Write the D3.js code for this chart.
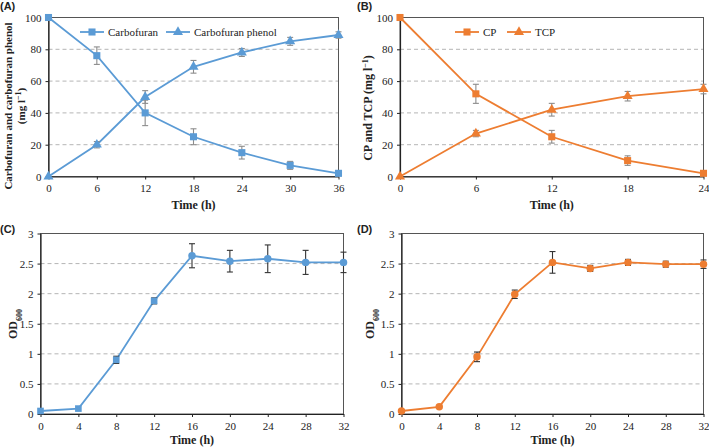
<!DOCTYPE html>
<html><head><meta charset="utf-8">
<script src="https://cdn.jsdelivr.net/npm/d3@7"></script>
<style>body{margin:0;background:#fff}svg{display:block}</style>
</head><body>
<svg id="c" width="709" height="447"></svg>
<script>
// ---- data ----
const timeA = [0, 6, 12, 18, 24, 30, 36];
const carbofuran = [100, 76, 40, 25, 15, 7, 2];
const carbofuranErr = [0, 5.5, 8, 5, 4, 2.5, 1.5];
const carbofuranPhenol = [0, 20, 50, 69, 78, 85, 89];
const carbofuranPhenolErr = [0, 2, 4, 4, 2.5, 2.5, 2];

const timeB = [0, 6, 12, 18, 24];
const cp = [100, 52, 25, 10, 2];
const cpErr = [0, 6, 4, 3, 1.5];
const tcp = [0, 27, 42, 50.5, 55];
const tcpErr = [0, 2, 4, 3, 3];

const timeCD = [0, 4, 8, 12, 16, 20, 24, 28, 32];
const odC = [0.05, 0.09, 0.9, 1.88, 2.63, 2.54, 2.58, 2.52, 2.52];
const odCErr = [0, 0, 0.06, 0.05, 0.2, 0.18, 0.23, 0.2, 0.17];
const odD = [0.05, 0.12, 0.95, 1.99, 2.52, 2.42, 2.52, 2.49, 2.49];
const odDErr = [0, 0, 0.08, 0.07, 0.18, 0.05, 0.05, 0.05, 0.07];

const ticksA = [0, 6, 12, 18, 24, 30, 36];
const ticksB = [0, 6, 12, 18, 24];
const ticksCD = [0, 4, 8, 12, 16, 20, 24, 28, 32];
const ticksConc = [0, 20, 40, 60, 80, 100];
const ticksOD = [0, 0.5, 1, 1.5, 2, 2.5, 3];

const BLUE = "#5b9bd5", ORANGE = "#ed7d31";
const SERIF = "'Liberation Serif','Times New Roman',serif";
const SANS = "'Liberation Sans',Arial,sans-serif";

const svg = d3.select("#c");

function drawPanel(p) {
  const g = svg.append("g");
  const x = d3.scaleLinear().domain(p.xDomain).range([p.left, p.right]);
  const y = d3.scaleLinear().domain(p.yDomain).range([p.bottom, p.top]);

  g.selectAll("line.grid").data(p.yTicks.filter(v => v !== p.yDomain[0] && v !== p.yDomain[1]))
    .enter().append("line")
    .attr("x1", p.left).attr("x2", p.right)
    .attr("y1", d => y(d)).attr("y2", d => y(d))
    .attr("stroke", "#b5b5b5").attr("stroke-width", 1).attr("stroke-dasharray", "4,3");

  g.append("rect").attr("x", p.left).attr("y", p.top)
    .attr("width", p.right - p.left).attr("height", p.bottom - p.top)
    .attr("fill", "none").attr("stroke", "#555").attr("stroke-width", 1);

  const xa = g.append("g").attr("transform", `translate(0,${p.bottom})`)
    .call(d3.axisBottom(x).tickValues(p.xTicks).tickSize(3).tickSizeOuter(0).tickFormat(d3.format("d")));
  const ya = g.append("g").attr("transform", `translate(${p.left},0)`)
    .call(d3.axisLeft(y).tickValues(p.yTicks).tickSize(3).tickSizeOuter(0).tickFormat(d => String(d)));
  [xa, ya].forEach(a => {
    a.select(".domain").attr("stroke", "#222").attr("stroke-width", 1.2);
    a.selectAll(".tick line").attr("stroke", "#222");
    a.selectAll("text").attr("font-family", SERIF).attr("font-size", 11).attr("fill", "#222");
  });
  xa.selectAll("text").attr("dy", "0.9em");
  ya.selectAll("text").attr("dx", "-1px");

  p.series.forEach(s => {
    const pts = s.t.map((t, i) => ({ t, v: s.v[i], e: s.e[i] }));
    g.append("path").datum(pts)
      .attr("d", d3.line().x(d => x(d.t)).y(d => y(d.v)))
      .attr("fill", "none").attr("stroke", s.color).attr("stroke-width", 1.8);
    const eb = g.selectAll(null).data(pts.filter(d => d.e > 0)).enter().append("g")
      .attr("stroke", p.errColor).attr("stroke-width", 1.1);
    eb.append("line").attr("x1", d => x(d.t)).attr("x2", d => x(d.t))
      .attr("y1", d => y(d.v + d.e)).attr("y2", d => y(d.v - d.e));
    eb.append("line").attr("x1", d => x(d.t) - 3).attr("x2", d => x(d.t) + 3)
      .attr("y1", d => y(d.v + d.e)).attr("y2", d => y(d.v + d.e));
    eb.append("line").attr("x1", d => x(d.t) - 3).attr("x2", d => x(d.t) + 3)
      .attr("y1", d => y(d.v - d.e)).attr("y2", d => y(d.v - d.e));
    g.selectAll(null).data(pts).enter().append("path")
      .attr("transform", d => `translate(${x(d.t)},${y(d.v)})`)
      .attr("d", d => d3.symbol().type(s.sym(d)).size(s.size)())
      .attr("fill", s.color);
  });

  if (p.legend) {
    p.legend.forEach(l => {
      g.append("line").attr("x1", l.x).attr("x2", l.x + 24).attr("y1", l.y).attr("y2", l.y)
        .attr("stroke", l.color).attr("stroke-width", 1.8);
      g.append("path").attr("transform", `translate(${l.x + 12},${l.y})`)
        .attr("d", d3.symbol().type(l.sym).size(l.size)()).attr("fill", l.color);
      g.append("text").attr("x", l.x + 28).attr("y", l.y + 4).text(l.label)
        .attr("font-family", SERIF).attr("font-size", 11).attr("fill", "#222");
    });
  }

  g.append("text").attr("x", (p.left + p.right) / 2).attr("y", p.xTitleY)
    .attr("text-anchor", "middle").attr("font-family", SERIF).attr("font-weight", "bold")
    .attr("font-size", 12).attr("fill", "#222").text("Time (h)");

  g.append("text").attr("x", p.labelX).attr("y", p.labelY).text(p.label)
    .attr("font-family", SANS).attr("font-weight", "bold").attr("font-size", 11).attr("fill", "#222");

  return { g, x, y };
}

drawPanel({
  left: 48.5, right: 338.5, top: 17.5, bottom: 176.5,
  xDomain: [0, 36], yDomain: [0, 100], xTicks: ticksA, yTicks: ticksConc,
  errColor: "#8c8c8c",
  series: [
    { t: timeA, v: carbofuran, e: carbofuranErr, color: BLUE, sym: () => d3.symbolSquare, size: 50 },
    { t: timeA, v: carbofuranPhenol, e: carbofuranPhenolErr, color: BLUE, sym: () => d3.symbolTriangle, size: 44 }
  ],
  legend: [
    { x: 80, y: 32, color: BLUE, sym: d3.symbolSquare, size: 50, label: "Carbofuran" },
    { x: 166, y: 32, color: BLUE, sym: d3.symbolTriangle, size: 44, label: "Carbofuran phenol" }
  ],
  xTitleY: 209, label: "(A)", labelX: 0, labelY: 10
});
{
  const t = svg.append("text").attr("transform", "translate(12,106) rotate(-90)")
    .attr("text-anchor", "middle").attr("font-family", SERIF).attr("font-weight", "bold")
    .attr("font-size", 11).attr("fill", "#222");
  t.text("Carbofuran and carbofuran phenol");
  const t2 = svg.append("text").attr("transform", "translate(25,106) rotate(-90)")
    .attr("text-anchor", "middle").attr("font-family", SERIF).attr("font-weight", "bold")
    .attr("font-size", 11).attr("fill", "#222");
  t2.append("tspan").text("(mg l");
  t2.append("tspan").attr("baseline-shift", "super").attr("font-size", 8).text("−1");
  t2.append("tspan").text(")");
}

drawPanel({
  left: 400, right: 703.5, top: 17.5, bottom: 176.5,
  xDomain: [0, 24], yDomain: [0, 100], xTicks: ticksB, yTicks: ticksConc,
  errColor: "#8c8c8c",
  series: [
    { t: timeB, v: cp, e: cpErr, color: ORANGE, sym: () => d3.symbolSquare, size: 50 },
    { t: timeB, v: tcp, e: tcpErr, color: ORANGE, sym: () => d3.symbolTriangle, size: 44 }
  ],
  legend: [
    { x: 455, y: 32, color: ORANGE, sym: d3.symbolSquare, size: 50, label: "CP" },
    { x: 507, y: 32, color: ORANGE, sym: d3.symbolTriangle, size: 44, label: "TCP" }
  ],
  xTitleY: 209, label: "(B)", labelX: 357, labelY: 10
});
{
  const t = svg.append("text").attr("transform", "translate(372,108) rotate(-90)")
    .attr("text-anchor", "middle").attr("font-family", SERIF).attr("font-weight", "bold")
    .attr("font-size", 12).attr("fill", "#222");
  t.append("tspan").text("CP and TCP (mg l");
  t.append("tspan").attr("baseline-shift", "super").attr("font-size", 8).text("−1");
  t.append("tspan").text(")");
}

drawPanel({
  left: 40.5, right: 343.5, top: 233.5, bottom: 414,
  xDomain: [0, 32], yDomain: [0, 3], xTicks: ticksCD, yTicks: ticksOD,
  errColor: "#333",
  series: [
    { t: timeCD, v: odC, e: odCErr, color: BLUE, sym: d => d.t <= 12 ? d3.symbolSquare : d3.symbolCircle, size: 44 }
  ],
  xTitleY: 444, label: "(C)", labelX: 0, labelY: 233
});
drawPanel({
  left: 401.5, right: 703.5, top: 233.5, bottom: 414,
  xDomain: [0, 32], yDomain: [0, 3], xTicks: ticksCD, yTicks: ticksOD,
  errColor: "#333",
  series: [
    { t: timeCD, v: odD, e: odDErr, color: ORANGE, sym: () => d3.symbolCircle, size: 44 }
  ],
  xTitleY: 444, label: "(D)", labelX: 357, labelY: 233
});
[[17, 324], [374, 324]].forEach(([cx, cy]) => {
  const t = svg.append("text").attr("transform", `translate(${cx},${cy}) rotate(-90)`)
    .attr("text-anchor", "middle").attr("font-family", SERIF).attr("font-weight", "bold")
    .attr("font-size", 12).attr("fill", "#222");
  t.append("tspan").text("OD");
  t.append("tspan").attr("baseline-shift", "sub").attr("font-size", 8).text("600");
});
</script>
</body></html>
